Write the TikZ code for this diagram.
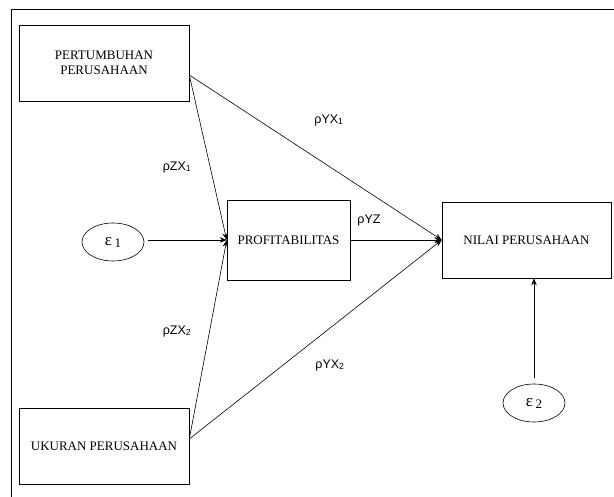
\documentclass[tikz,border=0pt]{standalone}
\usepackage{fontspec}
\setmainfont{Liberation Serif}
\newfontfamily\labelfont{Liberation Sans}
\usepackage{tikz}
\usetikzlibrary{shapes.geometric, arrows.meta, positioning}
\tikzset{
    varbox/.style={rectangle, draw, line width=0.6pt, align=center, font=\fontsize{13}{14.5}\selectfont, inner sep=0pt},
    errnode/.style={ellipse, draw, line width=0.6pt, minimum width=62pt, minimum height=38pt, inner sep=0pt, font=\fontsize{17}{19}\selectfont},
    arrow/.style={-{Stealth[length=7pt, width=5.5pt]}, line width=0.6pt},
    coef/.style={font=\labelfont\fontsize{12.5}{14}\selectfont}
}

\begin{document}
\begin{tikzpicture}[x=1pt, y=-1pt]
            \useasboundingbox (0,0) rectangle (614,497);
            % frame
            \draw[line width=0.8pt] (11,497) -- (11,9.5) -- (614,9.5);

            \node (pert) [varbox, minimum width=170pt, minimum height=76pt] at (104,63) {PERTUMBUHAN\\PERUSAHAAN};
            \node (ukuran) [varbox, minimum width=170pt, minimum height=76pt] at (104,446) {UKURAN PERUSAHAAN};
            \node (profit) [varbox, minimum width=123pt, minimum height=80pt] at (288.5,240) {PROFITABILITAS};
            \node (nilai) [varbox, minimum width=169pt, minimum height=76pt] at (526.5,240) {NILAI PERUSAHAAN};
            \node (eps1) [errnode] at (113,242) {ε\,\raisebox{-2pt}{\fontsize{13}{14}\selectfont 1}};
            \node (eps2) [errnode] at (534,403) {ε\,\raisebox{-2pt}{\fontsize{13}{14}\selectfont 2}};

            \coordinate (pertout) at ([yshift=-12pt]pert.east);
            \coordinate (ukuranout) at ([yshift=7pt]ukuran.east);

            \draw[arrow] (pertout) -- (profit.west);
            \draw[arrow] (pertout) -- (nilai.west);
            \draw[arrow] (ukuranout) -- (profit.west);
            \draw[arrow] (ukuranout) -- (nilai.west);
            \draw[arrow, shorten <=4pt] (eps1.east |- profit.west) -- (profit.west);
            \draw[arrow] (profit.east) -- (nilai.west);
            \draw[arrow, shorten <=6pt] (eps2.north) -- (eps2.north |- nilai.south);

            \node (l1) [coef] at (177,167) {ρZX\textsubscript{1}};
            \node (l2) [coef] at (329,120) {ρYX\textsubscript{1}};
            \node (l3) [coef] at (369,220) {ρYZ};
            \node (l4) [coef] at (177,331) {ρZX\textsubscript{2}};
            \node (l5) [coef] at (330,365) {ρYX\textsubscript{2}};
        \end{tikzpicture}
\end{document}
